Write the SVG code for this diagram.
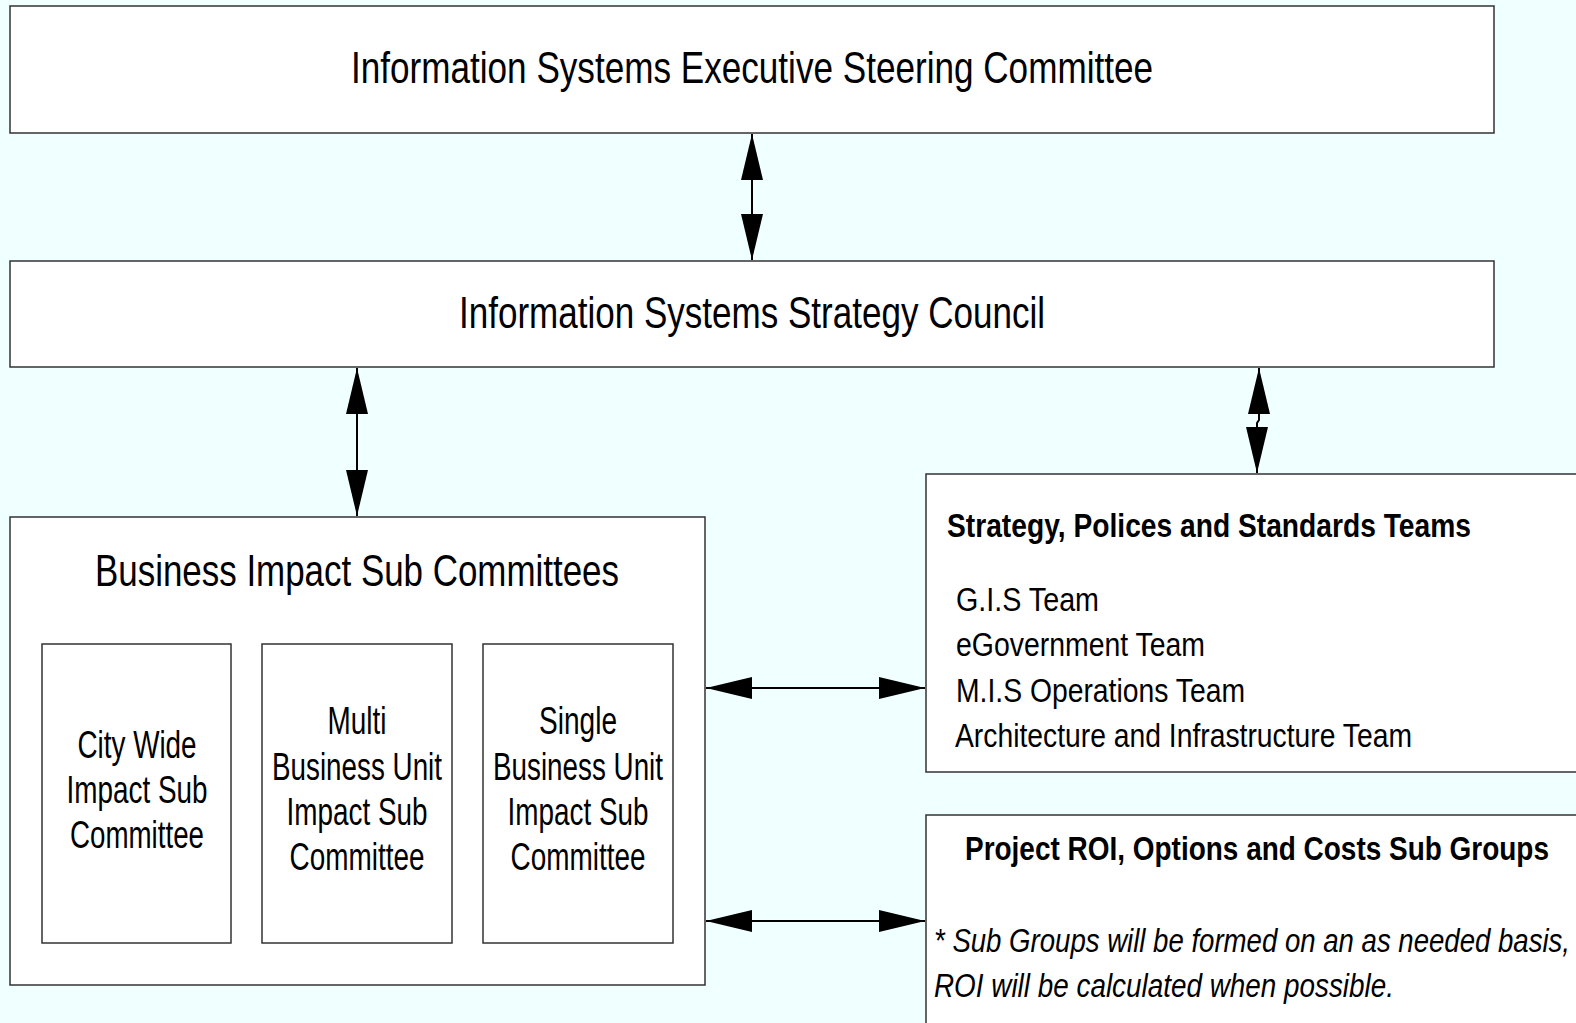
<svg xmlns="http://www.w3.org/2000/svg" width="1576" height="1023" viewBox="0 0 1576 1023">
<style>
.box{fill:#ffffff;stroke:#333333;stroke-width:1.5}
.t{font-family:"Liberation Sans Narrow","Arial Narrow","Liberation Sans",Arial,sans-serif;fill:#000}
.big{font-size:45px}
.mid{font-size:38px}
.sm{font-size:34px}
.b{font-weight:bold}
.i{font-style:italic}
.c{text-anchor:middle}
.conn{stroke:#000;stroke-width:2;fill:none;marker-start:url(#ah);marker-end:url(#ah)}
</style>
<defs>
<marker id="ah" viewBox="0 0 46 22" refX="46" refY="11" markerWidth="46" markerHeight="22" markerUnits="userSpaceOnUse" orient="auto-start-reverse">
<path d="M0,0 L46,11 L0,22 Z" fill="#000"/>
</marker>
</defs>
<rect x="0" y="0" width="1576" height="1023" fill="#F0FFFF"/>

<g id="exec">
<rect class="box" x="10" y="6" width="1484" height="127"/>
<text class="t big" x="351" y="83" textLength="802" lengthAdjust="spacingAndGlyphs">Information Systems Executive Steering Committee</text>
</g>

<g id="council">
<rect class="box" x="10" y="261" width="1484" height="106"/>
<text class="t big" x="459" y="328" textLength="586" lengthAdjust="spacingAndGlyphs">Information Systems Strategy Council</text>
</g>

<g id="business">
<rect class="box" x="10" y="517" width="695" height="468"/>
<text class="t big" x="95" y="586" textLength="524" lengthAdjust="spacingAndGlyphs">Business Impact Sub Committees</text>
</g>

<g id="citywide">
<rect class="box" x="42" y="644" width="189" height="299"/>
<text class="t mid c" x="137" y="758" textLength="119" lengthAdjust="spacingAndGlyphs">City Wide</text>
<text class="t mid c" x="137" y="803" textLength="141" lengthAdjust="spacingAndGlyphs">Impact Sub</text>
<text class="t mid c" x="137" y="848" textLength="134" lengthAdjust="spacingAndGlyphs">Committee</text>
</g>

<g id="multi">
<rect class="box" x="262" y="644" width="190" height="299"/>
<text class="t mid c" x="357" y="734" textLength="59" lengthAdjust="spacingAndGlyphs">Multi</text>
<text class="t mid c" x="357" y="780" textLength="170" lengthAdjust="spacingAndGlyphs">Business Unit</text>
<text class="t mid c" x="357" y="825" textLength="141" lengthAdjust="spacingAndGlyphs">Impact Sub</text>
<text class="t mid c" x="357" y="870" textLength="135" lengthAdjust="spacingAndGlyphs">Committee</text>
</g>

<g id="single">
<rect class="box" x="483" y="644" width="190" height="299"/>
<text class="t mid c" x="578" y="734" textLength="78" lengthAdjust="spacingAndGlyphs">Single</text>
<text class="t mid c" x="578" y="780" textLength="170" lengthAdjust="spacingAndGlyphs">Business Unit</text>
<text class="t mid c" x="578" y="825" textLength="141" lengthAdjust="spacingAndGlyphs">Impact Sub</text>
<text class="t mid c" x="578" y="870" textLength="135" lengthAdjust="spacingAndGlyphs">Committee</text>
</g>

<g id="strategy">
<rect class="box" x="926" y="474" width="652" height="298"/>
<text class="t sm b" x="947" y="537" textLength="524" lengthAdjust="spacingAndGlyphs">Strategy, Polices and Standards Teams</text>
<text class="t sm" x="956" y="611" textLength="143" lengthAdjust="spacingAndGlyphs">G.I.S Team</text>
<text class="t sm" x="956" y="656" textLength="249" lengthAdjust="spacingAndGlyphs">eGovernment Team</text>
<text class="t sm" x="956" y="702" textLength="289" lengthAdjust="spacingAndGlyphs">M.I.S Operations Team</text>
<text class="t sm" x="955" y="747" textLength="457" lengthAdjust="spacingAndGlyphs">Architecture and Infrastructure Team</text>
</g>

<g id="roi">
<rect class="box" x="926" y="815" width="652" height="210"/>
<text class="t sm b" transform="translate(965,860) scale(0.8,1)" x="0" y="0" textLength="730" lengthAdjust="spacingAndGlyphs">Project ROI, Options and Costs Sub Groups</text>
<text class="t sm i" transform="translate(934,952) scale(0.8,1)" x="0" y="0" textLength="795" lengthAdjust="spacingAndGlyphs">* Sub Groups will be formed on an as needed basis,</text>
<text class="t sm i" x="934" y="997" textLength="460" lengthAdjust="spacingAndGlyphs">ROI will be calculated when possible.</text>
</g>

<g id="connectors">
<path class="conn" d="M752,134 V260"/>
<path class="conn" d="M357,368 V516"/>
<path class="conn" d="M1259,368 V420 L1257,423 V473"/>
<path class="conn" d="M706,688 H925"/>
<path class="conn" d="M706,921 H925"/>
</g>
</svg>
